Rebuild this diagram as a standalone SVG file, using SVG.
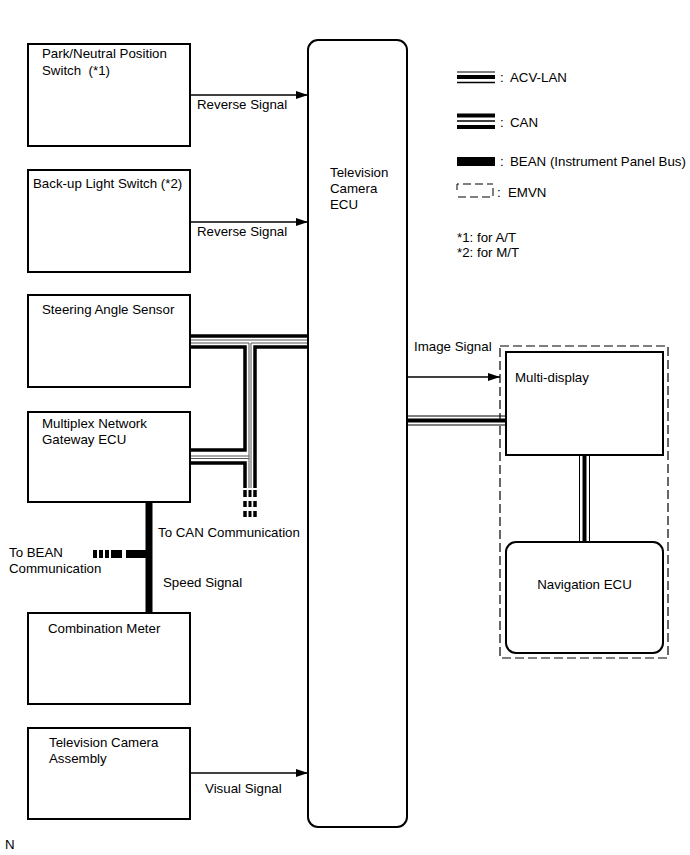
<svg xmlns="http://www.w3.org/2000/svg" width="690" height="855" viewBox="0 0 690 855">
<defs>
<style>
text{font-family:"Liberation Sans",Arial,sans-serif;font-size:13.3px;fill:#000}
.box{fill:#fff;stroke:#000;stroke-width:2}
.sig{fill:none;stroke:#000;stroke-width:1.5;marker-end:url(#ah)}
.thk{fill:none;stroke:#000;stroke-width:3.5}
.thn{fill:none;stroke:#555;stroke-width:1}
</style>
<marker id="ah" markerUnits="userSpaceOnUse" markerWidth="13" markerHeight="8" refX="12" refY="4" orient="auto">
<path d="M0,0 L12,4 L0,8 z" fill="#000"/>
</marker>
</defs>
<rect width="690" height="855" fill="#fff"/>

<g id="connectors">
<line class="sig" x1="190" y1="95" x2="308" y2="95"/>
<line class="sig" x1="190" y1="222" x2="308" y2="222"/>
<line class="sig" x1="190" y1="773" x2="308" y2="773"/>
<line class="sig" x1="407" y1="377" x2="500" y2="377"/>
<!-- CAN bus -->
<line class="thk" x1="190" y1="336" x2="308" y2="336"/>
<line class="thn" x1="190" y1="340" x2="308" y2="340"/>
<path class="thn" d="M190,343 H249 V488"/>
<path class="thn" d="M308,343 H251 V488"/>
<path class="thk" d="M190,347 H245 V450 H190"/>
<path class="thk" d="M190,463 H245 V488"/>
<path class="thk" d="M308,347 H255 V488"/>
<line class="thn" x1="190" y1="456" x2="249" y2="456"/>
<line class="thn" x1="190" y1="458.5" x2="249" y2="458.5"/>
<g stroke="#000" stroke-dasharray="7 4 6 4 6 20">
<line x1="245" y1="490" x2="245" y2="518" stroke-width="3.5"/>
<line x1="250" y1="490" x2="250" y2="518" stroke-width="3"/>
<line x1="255" y1="490" x2="255" y2="518" stroke-width="3.5"/>
</g>
<!-- BEAN -->
<line x1="149" y1="502" x2="149" y2="613" stroke="#000" stroke-width="7"/>
<rect x="126" y="550" width="23" height="8" fill="#000"/>
<rect x="111" y="550" width="11" height="8" fill="#000"/>
<rect x="105" y="550" width="4" height="8" fill="#000"/>
<rect x="99" y="550" width="4" height="8" fill="#000"/>
<rect x="93" y="550" width="4" height="8" fill="#000"/>
<!-- ACV-LAN ECU to Multi-display -->
<line x1="407" y1="416" x2="506" y2="416" stroke="#000" stroke-width="1"/>
<line x1="407" y1="420.5" x2="506" y2="420.5" stroke="#000" stroke-width="4"/>
<line x1="407" y1="425" x2="506" y2="425" stroke="#000" stroke-width="1"/>
<!-- ACV-LAN Multi-display to Navigation -->
<line x1="579.5" y1="455" x2="579.5" y2="542" stroke="#000" stroke-width="1"/>
<line x1="584.5" y1="455" x2="584.5" y2="542" stroke="#000" stroke-width="4"/>
<line x1="589.5" y1="455" x2="589.5" y2="542" stroke="#000" stroke-width="1"/>
</g>

<g id="emvn">
<rect x="500" y="346" width="168" height="312" fill="none" stroke="#000" stroke-width="1.2" stroke-dasharray="9 4"/>
</g>

<g id="park-neutral">
<rect class="box" x="28" y="44" width="162" height="102"/>
<text x="42" y="58">Park/Neutral Position</text>
<text x="42" y="75" xml:space="preserve">Switch  (*1)</text>
</g>
<g id="backup-light">
<rect class="box" x="28" y="170" width="162" height="102"/>
<text x="33" y="188">Back-up Light Switch (*2)</text>
</g>
<g id="steering">
<rect class="box" x="28" y="295" width="162" height="92"/>
<text x="42" y="314">Steering Angle Sensor</text>
</g>
<g id="gateway">
<rect class="box" x="28" y="412" width="162" height="90"/>
<text x="42" y="428">Multiplex Network</text>
<text x="42" y="444">Gateway ECU</text>
</g>
<g id="combination-meter">
<rect class="box" x="28" y="613" width="162" height="91"/>
<text x="48" y="633">Combination Meter</text>
</g>
<g id="tv-camera-assembly">
<rect class="box" x="28" y="728" width="162" height="91"/>
<text x="49" y="747">Television Camera</text>
<text x="49" y="763">Assembly</text>
</g>
<g id="tv-camera-ecu">
<rect class="box" x="308" y="40" width="99" height="787" rx="10" ry="10"/>
<text x="330" y="177">Television</text>
<text x="330" y="193">Camera</text>
<text x="330" y="209">ECU</text>
</g>
<g id="multi-display">
<rect class="box" x="506" y="352" width="157" height="103"/>
<text x="515" y="382">Multi-display</text>
</g>
<g id="navigation-ecu">
<rect class="box" x="506" y="542" width="157" height="111" rx="10" ry="10" stroke-width="2.5"/>
<text x="584.5" y="589" text-anchor="middle">Navigation ECU</text>
</g>

<g id="labels">
<text x="197" y="109">Reverse Signal</text>
<text x="197" y="236">Reverse Signal</text>
<text x="205" y="793">Visual Signal</text>
<text x="414" y="351">Image Signal</text>
<text x="158" y="537">To CAN Communication</text>
<text x="163" y="587">Speed Signal</text>
<text x="9" y="557">To BEAN</text>
<text x="9" y="573">Communication</text>
<text x="5" y="849" font-size="10">N</text>
</g>

<g id="legend">
<line x1="457" y1="72" x2="495" y2="72" stroke="#000" stroke-width="1"/>
<line x1="457" y1="77" x2="495" y2="77" stroke="#000" stroke-width="4"/>
<line x1="457" y1="82.5" x2="495" y2="82.5" stroke="#000" stroke-width="1.5"/>
<text x="500" y="82">:</text><text x="510" y="82">ACV-LAN</text>
<line x1="457" y1="115.5" x2="495" y2="115.5" stroke="#000" stroke-width="4"/>
<line x1="457" y1="121" x2="495" y2="121" stroke="#000" stroke-width="1.5"/>
<line x1="457" y1="127" x2="495" y2="127" stroke="#000" stroke-width="4"/>
<text x="500" y="127">:</text><text x="510" y="127">CAN</text>
<rect x="457" y="157" width="38" height="9" fill="#000"/>
<text x="500" y="166">:</text><text x="510" y="166">BEAN (Instrument Panel Bus)</text>
<path d="M457,190 V184 H493 M493,188 V197 H457" fill="none" stroke="#000" stroke-width="1" stroke-dasharray="8 4"/>
<text x="497" y="197">:</text><text x="508" y="197">EMVN</text>
<text x="457" y="242">*1: for A/T</text>
<text x="457" y="257">*2: for M/T</text>
</g>
</svg>
